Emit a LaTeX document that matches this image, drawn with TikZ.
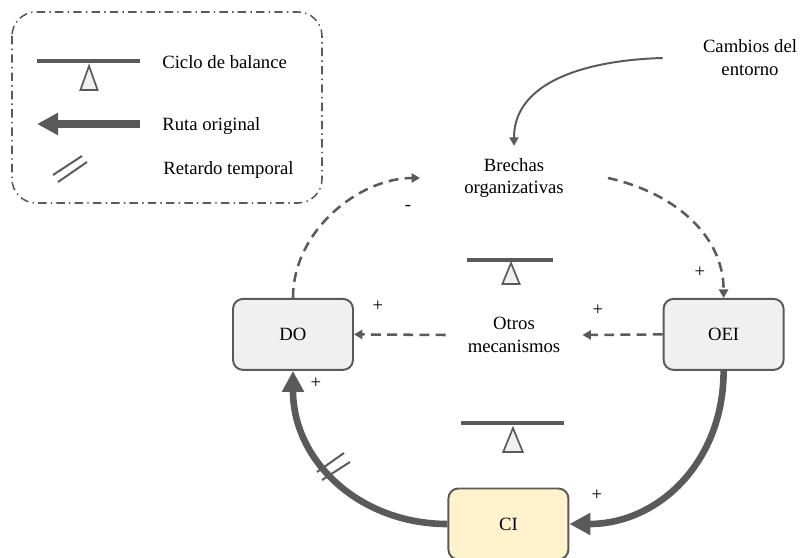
\documentclass[tikz,border=0pt]{standalone}
\usepackage{fontspec}
\setmainfont{Liberation Serif}
\usepackage{tikz}
\usetikzlibrary{arrows.meta,positioning}
\definecolor{ln}{HTML}{5A5A5A}
\definecolor{bx}{HTML}{F0F0F0}
\definecolor{ciy}{HTML}{FFF2CC}

\begin{document}
\begin{tikzpicture}[
    every node/.style={font=\fontsize{13.3}{16.3}\selectfont},
    box/.style={rectangle, rounded corners=0.25cm, draw=ln, line width=1.4pt,
                fill=bx, minimum width=3cm, minimum height=1.775cm},
    txt/.style={align=center, inner ysep=0.3cm},
    lgd/.style={anchor=west, inner sep=0pt},
    sg/.style={inner sep=1pt},
    dsh/.style={draw=ln, line width=1.8pt, dash pattern=on 7pt off 4.5pt,
                -{Triangle[length=6pt, width=6.5pt]}},
    thn/.style={draw=ln, line width=1.4pt, -{Triangle[length=6pt, width=6.5pt]}},
    thk/.style={draw=ln, line width=4.7pt, -{Triangle[length=15pt, width=15pt]}},
    bal/.style={draw=ln, line width=2.8pt},
    tri/.style={draw=ln, line width=1.2pt, fill=bx},
    dly/.style={draw=ln, line width=1.4pt},
  ]
  \useasboundingbox (0,0) rectangle (20,-13.95);
  % legend
  \draw[ln, line width=1.1pt, rounded corners=0.6cm,
        dash pattern=on 6pt off 3pt on 1pt off 3pt] (0.3,-0.3) rectangle (8.05,-5.075);
  \draw[bal] (0.925,-1.525) -- (3.5,-1.525);
  \draw[tri] (2.225,-1.65) -- (2.01,-2.25) -- (2.44,-2.25) -- cycle;
  \node[lgd] (l1) at (4.05,-1.55) {Ciclo de balance};
  \coordinate (ra) at (3.5,-3.1);
  \coordinate (rb) at (0.925,-3.1);
  \draw[draw=ln, line width=5.7pt, -{Triangle[length=15pt, width=15pt]}] (ra) -- (rb);
  \node[lgd] (l2) at (4.05,-3.15) {Ruta original};
  \draw[dly] (1.325,-4.375) -- (2.05,-3.9);
  \draw[dly] (1.45,-4.55) -- (2.175,-4.05);
  \node[lgd] (l3) at (4.075,-4.25) {Retardo temporal};
  % variables
  \node[txt, inner xsep=1cm] (cam) at (18.75,-1.45) {Cambios del\\entorno};
  \node[txt, inner xsep=1.1cm] (bre) at (12.85,-4.45) {Brechas\\organizativas};
  \node[txt, inner xsep=0.55cm] (otr) at (12.85,-8.375) {Otros\\mecanismos};
  \node[box] (do) at (7.325,-8.36) {DO};
  \node[box] (oei) at (18.09,-8.36) {OEI};
  \node[box, fill=ciy] (ci) at (12.71,-13.1) {CI};
  % balance symbols
  \draw[bal] (11.675,-6.5) -- (13.825,-6.5);
  \draw[tri] (12.775,-6.575) -- (12.56,-7.1) -- (12.99,-7.1) -- cycle;
  \draw[bal] (11.525,-10.575) -- (14.1,-10.575);
  \draw[tri] (12.825,-10.7) -- (12.58,-11.3) -- (13.07,-11.3) -- cycle;
  % links
  \draw[thn] (cam.west) .. controls +(-1.8,-0.05) and +(0,1.65) .. (bre.north);
  \draw[dsh] (bre.east) .. controls +(1.6,-0.35) and +(0,1.6) .. (oei.north);
  \draw[dsh] (do.north) .. controls +(0,1.7) and +(-1.5,0) .. (bre.west);
  \draw[dsh] (oei.west) -- (otr.east);
  \draw[dsh] (otr.west) -- (do.east);
  \draw[thk] (oei.south) .. controls +(0,-2.25) and +(2.25,0) .. (ci.east);
  \draw[thk] (ci.west) .. controls +(-2.2,0) and +(0,-2.25) .. (do.south);
  \draw[dly] (7.925,-11.8) -- (8.6,-11.325);
  \draw[dly] (8.05,-12) -- (8.75,-11.55);
  % signs
  \node[sg] (s1) at (9.45,-7.65) {+};
  \node[sg] (s2) at (14.95,-7.75) {+};
  \node[sg] (s3) at (17.5,-6.8) {+};
  \node[sg] (s4) at (7.9,-9.575) {+};
  \node[sg] (s5) at (14.925,-12.375) {+};
  \node[sg] (s6) at (10.2,-5.2) {-};
\end{tikzpicture}
\end{document}
